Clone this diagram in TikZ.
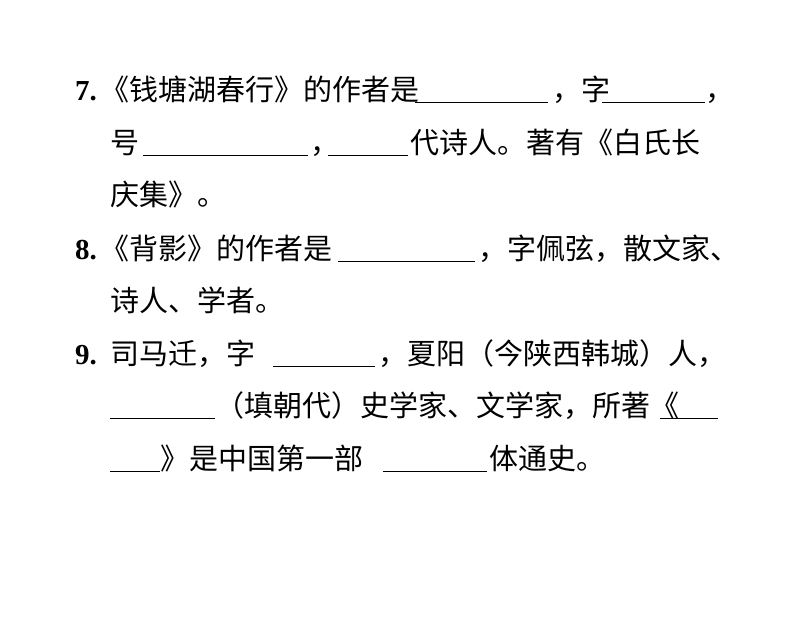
\documentclass[tikz,border=0pt]{standalone}
\usepackage{fontspec}
\setmainfont{Liberation Serif}
\newfontfamily\cjk{Noto Sans CJK SC}
\begin{document}
\begin{tikzpicture}[x=1pt,y=-1pt,
  t/.style={anchor=base west,inner sep=0pt,font=\cjk\fontsize{29}{34}\selectfont},
  num/.style={anchor=base west,inner sep=0pt,font=\bfseries\fontsize{29}{34}\selectfont},
  bl/.style={line width=1pt}]
\useasboundingbox (0,0) rectangle (794,644);
% line 1
\node[num] (n7) at (75,101) {7.};
\node[t] (a1) at (100,101) {《钱塘湖春行》的作者是};
\draw[bl] (415,103) -- (548,103);
\node[t] (a2) at (552,101) {，字};
\draw[bl] (602,103) -- (705,103);
\node[t] (a3) at (705,101) {，};
% line 2
\node[t] (b1) at (110,154) {号};
\draw[bl] (143,156) -- (308,156);
\node[t] (b2) at (310,154) {，};
\draw[bl] (328,156) -- (408,156);
\node[t] (b3) at (410,154) {代诗人。著有《白氏长};
% line 3
\node[t] (c1) at (110,206) {庆集》。};
% line 4
\node[num] (n8) at (75,259) {8.};
\node[t] (d1) at (100,259) {《背影》的作者是};
\draw[bl] (338,261) -- (475,261);
\node[t] (d2) at (478,259) {，字佩弦，散文家、};
% line 5
\node[t] (e1) at (110,311) {诗人、学者。};
% line 6
\node[num] (n9) at (75,364) {9.};
\node[t] (f1) at (110,364) {司马迁，字};
\draw[bl] (273,366) -- (375,366);
\node[t] (f2) at (378,364) {，夏阳（今陕西韩城）人，};
% line 7
\draw[bl] (110,418) -- (215,418);
\node[t] (g1) at (215,416) {（填朝代）史学家、文学家，所著《};
\draw[bl] (660,418) -- (718,418);
% line 8
\draw[bl] (110,471) -- (160,471);
\node[t] (h1) at (160,469) {》是中国第一部};
\draw[bl] (383,471) -- (487,471);
\node[t] (h2) at (489,469) {体通史。};
\end{tikzpicture}
\end{document}
